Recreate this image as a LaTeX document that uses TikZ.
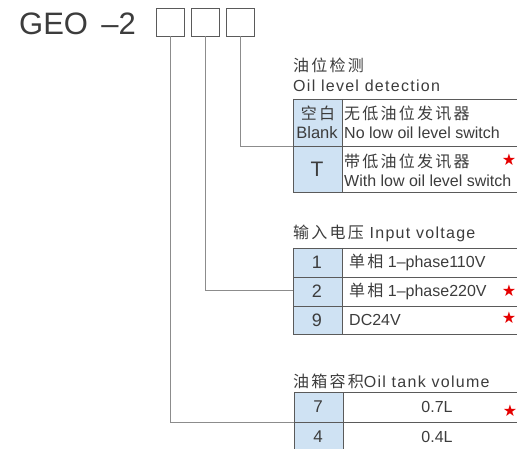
\documentclass[tikz,border=0pt]{standalone}
\usepackage{fontspec}
\setmainfont{Liberation Sans}
\newfontfamily\cjk[LetterSpace=14]{Noto Sans CJK SC}
\newfontfamily\hdfont[LetterSpace=8]{Liberation Sans}
\newfontfamily\symfont{DejaVu Sans}
\usetikzlibrary{positioning}

\definecolor{keyblue}{HTML}{CFE2F3}
\definecolor{rulegray}{HTML}{5A5A5A}
\definecolor{linkgray}{HTML}{8C8C8C}
\definecolor{inkgray}{HTML}{3C3C3C}

\tikzset{
  codebox/.style={draw=rulegray, line width=0.9pt, minimum width=28pt, minimum height=28pt, inner sep=0pt},
  keytxt/.style={font=\fontsize{18}{18}\selectfont, text=inkgray, inner sep=0pt},
  celltxt/.style={font=\fontsize{16}{16}\selectfont, anchor=west, inner sep=0pt, text=inkgray},
  headtxt/.style={font=\hdfont\fontsize{16}{16}\selectfont, anchor=west, inner sep=0pt, text=inkgray},
  startxt/.style={font=\symfont\fontsize{16}{16}\selectfont, text=red!90!black, inner sep=0pt},
  link/.style={draw=linkgray, line width=0.9pt},
  rule/.style={draw=rulegray, line width=0.9pt}
}

\begin{document}
\begin{tikzpicture}[x=1pt, y=-1pt]
    \useasboundingbox (0,0) rectangle (517,449);

    % Model code with its three option boxes
    \node[anchor=west, inner sep=0pt, text=inkgray, font=\fontsize{31}{31}\selectfont] (title) at (19,24) {GEO\hspace{0.15em} –2};
    \node[codebox] (box1) at (170,22) {};
    \node[codebox] (box2) at (205,22) {};
    \node[codebox] (box3) at (240,22) {};

    % Where the leaders enter the tables
    \coordinate (oilin) at (293,146);   % oil level, row boundary
    \coordinate (voltin) at (293,290);  % voltage, row 2
    \coordinate (tankin) at (294,422);  % tank, row boundary

    % 1. Oil level detection
    \fill[keyblue] (293,99) rectangle (342,192);
    \foreach \y in {99,146,192} \draw[rule] (293,\y) -- (517,\y);
    \foreach \x in {293,342} \draw[rule] (\x,99) -- (\x,192);
    \node[headtxt, font=\cjk\fontsize{16}{16}\selectfont] (oilcn) at (293,65) {油位检测};
    \node[headtxt] (oilen) at (293,86) {Oil level detection};
    \node[keytxt, font=\cjk\fontsize{16}{16}\selectfont] (blankcn) at (318,113) {空白};
    \node[keytxt, font=\fontsize{16.5}{16}\selectfont] (blanken) at (317,133) {Blank};
    \node[celltxt, font=\cjk\fontsize{16}{16}\selectfont] (nolowcn) at (344,113) {无低油位发讯器};
    \node[celltxt] (nolowen) at (344,133) {No low oil level switch};
    \node[keytxt, font=\fontsize{21}{21}\selectfont] (keyT) at (317,169) {T};
    \node[celltxt, font=\cjk\fontsize{16}{16}\selectfont] (lowcn) at (344,161) {带低油位发讯器};
    \node[celltxt] (lowen) at (344,181) {With low oil level switch};
    \node[startxt] (star1) at (509,160) {★};

    % 2. Input voltage
    \fill[keyblue] (293,248) rectangle (342,334);
    \foreach \y in {248,277,306,334} \draw[rule] (293,\y) -- (517,\y);
    \foreach \x in {293,342} \draw[rule] (\x,248) -- (\x,334);
    \node[headtxt] (volthd) at (293,233) {{\cjk 输入电压} Input voltage};
    \node[keytxt] (key1) at (317,262) {1};
    \node[celltxt] (v110) at (349,262) {{\cjk 单相} 1–phase110V};
    \node[keytxt] (key2) at (317,291) {2};
    \node[celltxt] (v220) at (349,291) {{\cjk 单相} 1–phase220V};
    \node[startxt] (star2) at (509,291) {★};
    \node[keytxt] (key9) at (317,320) {9};
    \node[celltxt] (vdc) at (349,320) {DC24V};
    \node[startxt] (star3) at (509,318) {★};

    % 3. Oil tank volume
    \fill[keyblue] (294,392) rectangle (343,449);
    \foreach \y in {392,422} \draw[rule] (294,\y) -- (517,\y);
    \foreach \x in {294,343} \draw[rule] (\x,392) -- (\x,449);
    \node[headtxt] (tankhd) at (293,381) {{\cjk 油箱容积}Oil tank volume};
    \node[keytxt, font=\fontsize{17}{17}\selectfont] (key7) at (318,407) {7};
    \node[celltxt, anchor=center] (t07) at (437,407) {0.7L};
    \node[startxt] (star4) at (510,411) {★};
    \node[keytxt, font=\fontsize{17}{17}\selectfont] (key4) at (318,437) {4};
    \node[celltxt, anchor=center] (t04) at (437,437) {0.4L};

    % Leaders from the boxes
    \draw[link] (box3.south) |- (oilin);
    \draw[link] (box2.south) |- (voltin);
    \draw[link] (box1.south) |- (tankin);
\end{tikzpicture}
\end{document}
